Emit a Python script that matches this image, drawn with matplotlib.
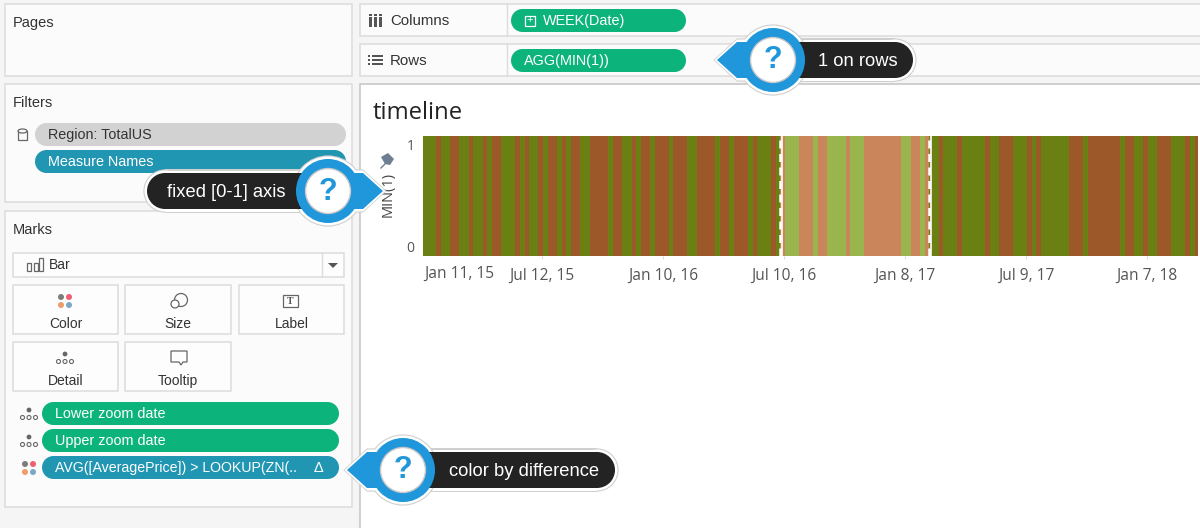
import numpy as np
import matplotlib
matplotlib.use("Agg")
import matplotlib.pyplot as plt
from matplotlib.patches import Rectangle, Ellipse, Circle, Polygon
from matplotlib.transforms import ScaledTranslation

# Runs of consecutive weeks, alternating up / down, each starting with "up"
runs_before = [3, 1, 2, 2, 2, 1, 2, 1, 1, 2, 3, 1, 1, 1, 2, 1, 1, 2, 1, 1, 1, 2, 2, 4, 1, 2, 2,
               1, 1, 2, 1, 3, 1, 3, 2, 4, 1, 2, 1, 3, 1, 1, 3, 1, 1]
runs_zoom = [1, 3, 3, 1, 2, 4, 1, 3, 8, 2, 2, 1, 1]     # starts with "down"
runs_after = [2, 1, 3, 1, 5, 1, 2, 3, 3, 1, 1, 1, 6, 3, 1, 7, 1, 2, 2, 1, 2, 3, 3, 1, 1, 2]

tick_weeks = [26, 52, 78, 104, 130, 156]
tick_labels = ["Jul 12, 15", "Jan 10, 16", "Jul 10, 16", "Jan 8, 17", "Jul 9, 17", "Jan 7, 18"]
first_label = "Jan 11, 15"
y_ticks = [0, 1]

GREEN, BROWN = "#6b8012", "#9c5829"
PALE_GREEN, PALE_BROWN = "#9ab44e", "#cb855a"
PILL_GREEN, PILL_TEAL, PILL_GREY = "#0cb47b", "#2196b3", "#d2d2d2"
BLUE, DARK = "#2097da", "#232323"
LINE = "#dcdcdc"
UI_FONT = "Liberation Sans"
TXT = "#333333"


def week_colors(runs, first, second):
    out = []
    for i, n in enumerate(runs):
        out += [first if i % 2 == 0 else second] * n
    return out


fig = plt.figure(figsize=(12, 5.28), dpi=100, facecolor="#f5f5f5")

# everything around the chart is drawn in pixel coordinates
ui = fig.add_axes([0, 0, 1, 1], zorder=0)
ui.set_xlim(0, 1200)
ui.set_ylim(528, 0)
ui.axis("off")


def box(x0, y0, x1, y1, fc="#fbfbfb", ec=LINE, lw=1.1, z=1):
    ui.add_patch(Rectangle((x0, y0), x1 - x0, y1 - y0, fc=fc, ec=ec, lw=lw, zorder=z))


def capsule(x0, y0, x1, y1, color, z):
    h = y1 - y0
    ui.add_patch(Rectangle((x0 + h / 2, y0), x1 - x0 - h, h, fc=color, ec="none", zorder=z))
    ui.add_patch(Circle((x0 + h / 2, y0 + h / 2), h / 2, fc=color, ec="none", zorder=z))
    ui.add_patch(Circle((x1 - h / 2, y0 + h / 2), h / 2, fc=color, ec="none", zorder=z))


def pill(x0, y0, x1, y1, color, text, tcolor="white", tx=None, size=10.4):
    capsule(x0, y0, x1, y1, color, 2)
    ui.text(tx if tx else x0 + 13, (y0 + y1) / 2 + 0.5, text, color=tcolor, fontsize=size,
            family=UI_FONT, va="center", ha="left", zorder=3)


def label(x, y, s, size=10.4, ha="left", color=TXT):
    ui.text(x, y + 1.2, s, fontsize=size, family=UI_FONT, color=color, va="center", ha=ha, zorder=3)


def color_dots(cx, cy):
    for dx, dy, c in [(-4, -4, "#7c7c7c"), (4, -4, "#f2606f"), (-4, 4, "#ef9c68"), (4, 4, "#7ba9c4")]:
        ui.add_patch(Circle((cx + dx, cy + dy), 3, fc=c, ec="none", zorder=3))


def detail_dots(cx, cy):
    ui.add_patch(Circle((cx, cy - 4), 2.4, fc="#666666", ec="none", zorder=3))
    for dx in (-6.5, 0, 6.5):
        ui.add_patch(Circle((cx + dx, cy + 3.5), 2, fc="white", ec="#666666", lw=0.8, zorder=3))


def callout(cx, cy, tip_x, pill_x0, pill_x1, text, text_x):
    # pill, pointer and bubble, with a white outline and soft grey edge
    s = 1 if tip_x > cx else -1
    top, bot = cy - 18, cy + 18
    for ec, grow in [("#cfcfcf", 3.6), ("white", 2.5)]:
        capsule(pill_x0 - grow, top - grow, pill_x1 + grow, bot + grow, ec, 4)
        ui.add_patch(Circle((cx, cy), 32 + grow, fc=ec, ec="none", zorder=5))
        ui.add_patch(Polygon([(cx, top - grow), (tip_x - s * 20, top - grow), (tip_x + s * grow, cy),
                              (tip_x - s * 20, bot + grow), (cx, bot + grow)], fc=ec, ec="none", zorder=5))
    capsule(pill_x0, top, pill_x1, bot, DARK, 6)
    ui.add_patch(Polygon([(cx, top), (tip_x - s * 20, top), (tip_x, cy), (tip_x - s * 20, bot), (cx, bot)],
                         fc=BLUE, ec="none", zorder=7))
    ui.add_patch(Circle((cx, cy), 32, fc=BLUE, ec="none", zorder=7))
    ui.add_patch(Circle((cx, cy), 22.5, fc="white", ec="#c8c8c8", lw=1, zorder=8))
    ui.text(cx, cy + 0.5, "?", fontsize=22, family=UI_FONT, weight="bold", color=BLUE, ha="center", va="center", zorder=9)
    ui.text(text_x, cy + 1.5, text, fontsize=13.2, family=UI_FONT, color="white", ha="left", va="center", zorder=9)


# left cards
box(5, 4, 352, 76)
box(5, 84, 352, 202)
box(5, 211, 352, 507)
label(13, 22, "Pages", 10.5)
label(13, 102, "Filters", 10.5)
label(13, 229, "Marks", 10.5)

# database icon
ui.add_patch(Rectangle((18, 131), 9, 9, fc="none", ec="#666666", lw=0.9, zorder=3))
ui.add_patch(Ellipse((22.5, 131), 9, 4, fc="#fbfbfb", ec="#666666", lw=0.9, zorder=3))
pill(35, 123, 346, 146, PILL_GREY, "Region: TotalUS", tcolor=TXT)
pill(35, 150, 346, 173, PILL_TEAL, "Measure Names")

# mark type dropdown
box(13, 253, 344, 277, fc="#fdfdfd")
ui.plot([322, 322], [253, 277], color=LINE, lw=1, zorder=3)
ui.add_patch(Polygon([(328, 263), (338, 263), (333, 268)], fc="#555555", ec="none", zorder=3))
for x0, h in [(27, 8), (33.5, 8), (39, 13)]:
    ui.add_patch(Rectangle((x0, 271 - h), 4, h, fc="none", ec="#666666", lw=0.9, zorder=3))
label(49, 264, "Bar", 10)

# mark buttons
for x0, x1, y0, y1, s in [(13, 118, 285, 334, "Color"), (125, 231, 285, 334, "Size"), (239, 344, 285, 334, "Label"),
                          (13, 118, 342, 391, "Detail"), (125, 231, 342, 391, "Tooltip")]:
    box(x0, y0, x1, y1, fc="#fdfdfd")
    label((x0 + x1) / 2, y1 - 11, s, 10, ha="center")
color_dots(65, 301)
ui.add_patch(Circle((181, 300), 6.5, fc="none", ec="#666666", lw=0.9, zorder=3))
ui.add_patch(Circle((175, 304), 4, fc="#fdfdfd", ec="#666666", lw=0.9, zorder=3))
ui.add_patch(Rectangle((283, 295), 15, 12, fc="none", ec="#666666", lw=0.9, zorder=3))
ui.text(290.5, 301, "T", fontsize=7, family="Liberation Serif", weight="bold", color="#555555", ha="center", va="center", zorder=3)
detail_dots(65, 358)
ui.add_patch(Polygon([(171, 351), (187, 351), (187, 362), (183, 362), (181, 365), (179, 362), (171, 362)],
                     fc="none", ec="#666666", lw=0.9, zorder=3))

# pills on the marks card
pill(42, 402, 339, 425, PILL_GREEN, "Lower zoom date")
pill(42, 429, 339, 452, PILL_GREEN, "Upper zoom date")
pill(42, 456, 339, 479, PILL_TEAL, "AVG([AveragePrice]) > LOOKUP(ZN(..", size=10.2)
label(319, 467, "\u0394", 10.5, ha="center", color="white")
detail_dots(29, 414)
detail_dots(29, 441)
color_dots(29, 468)

# shelves
box(360, 4, 1202, 36)
box(360, 44, 1202, 76)
ui.plot([507, 507], [4, 36], color=LINE, lw=1, zorder=3)
ui.plot([507, 507], [44, 76], color=LINE, lw=1, zorder=3)
label(390, 19.5, "Columns", 10.8)
label(390, 59.5, "Rows", 10.8)
for x0 in (369, 374, 379):
    ui.add_patch(Rectangle((x0, 17), 2.6, 10, fc="#555555", ec="none", zorder=3))
    ui.add_patch(Rectangle((x0, 13.5), 2.6, 2, fc="#555555", ec="none", zorder=3))
for y0 in (56, 60, 64):
    ui.add_patch(Rectangle((368, y0 - 1), 2, 2, fc="#555555", ec="none", zorder=3))
    ui.add_patch(Rectangle((372, y0 - 0.7), 11, 1.4, fc="#555555", ec="none", zorder=3))
pill(511, 9, 686, 32, PILL_GREEN, "WEEK(Date)", tx=543)
ui.add_patch(Rectangle((525, 15.5), 10, 10, fc="none", ec="white", lw=0.9, zorder=3))
ui.text(530, 20.2, "+", fontsize=8, color="white", family=UI_FONT, ha="center", va="center", zorder=3)
pill(511, 49, 686, 72, PILL_GREEN, "AGG(MIN(1))", tx=524)

# worksheet
box(360, 84, 1202, 530, fc="white", ec="#c4c4c4")
ui.text(373, 113, "timeline", fontsize=17.2, family="Open Sans", color="#222222", va="center", ha="left", zorder=3)

# pin
ui.add_patch(Polygon([(381, 157), (388, 153), (394, 159), (390, 165), (385, 164)], fc="#6d7f90", ec="none", zorder=3))
ui.plot([385, 381], [164, 168], color="#6d7f90", lw=1, zorder=3)

# the chart itself: one unit-high bar per week
colors = (week_colors(runs_before, GREEN, BROWN)
          + week_colors(runs_zoom, PALE_BROWN, PALE_GREEN)
          + week_colors(runs_after, GREEN, BROWN))
shift = 0.25
weeks = np.arange(1, len(colors) + 1) - shift
min_one = np.ones(len(weeks))

ax = fig.add_axes([423 / 1200, 1 - 256 / 528, 775 / 1200, 120 / 528], zorder=2)
ax.bar(weeks, min_one, width=1.0, color=colors, linewidth=0, antialiased=False)
ax.set_xlim(0.44, 0.44 + 775 / 4.654)
ax.set_ylim(0, 1)
for side in ax.spines.values():
    side.set_visible(False)

lower = sum(runs_before) + 0.5 - shift
upper = lower + sum(runs_zoom)
for edge in (lower, upper):
    ax.axvline(edge + 0.35, color="white", lw=1.2, zorder=3)
    ax.axvline(edge, color="white", lw=1.8, dashes=(3.2, 2.2), zorder=4)

ax.set_xticks(tick_weeks)
ax.set_xticklabels(tick_labels, fontsize=11.2, family="Open Sans", color="#555555")
ax.tick_params(axis="x", length=2.5, width=0.8, color="#dddddd", pad=6)
ax.set_yticks(y_ticks)
ax.set_yticklabels([str(v) for v in y_ticks], fontsize=10, family="Open Sans", color="#555555")
ax.tick_params(axis="y", length=0, pad=6)
nudge = ScaledTranslation(0, -3 / 100, fig.dpi_scale_trans)
tick_zero, tick_one = ax.get_yticklabels()
tick_zero.set_va("bottom")
tick_one.set_va("top")
tick_one.set_transform(tick_one.get_transform() + nudge)
ax.text(1 / 775, -18 / 120, first_label, transform=ax.transAxes, fontsize=11.2, family="Open Sans",
        color="#555555", ha="left", va="center")
ax.set_ylabel("MIN(1)", fontsize=10.5, family="Open Sans", color="#444444")
ax.yaxis.set_label_coords(-27 / 775, 0.51)
ax.patch.set_alpha(0)

# callouts sit over everything, so they get their own layer
overlay = fig.add_axes([0, 0, 1, 1], zorder=3)
overlay.set_xlim(0, 1200)
overlay.set_ylim(528, 0)
overlay.axis("off")
ui = overlay
callout(773, 60, 717, 760, 913, "1 on rows", 818)
callout(328, 191, 383, 147, 340, "fixed [0-1] axis", 167)
callout(403, 470, 347, 390, 615, "color by difference", 449)

fig.savefig("out.png", dpi=100, facecolor=fig.get_facecolor())
